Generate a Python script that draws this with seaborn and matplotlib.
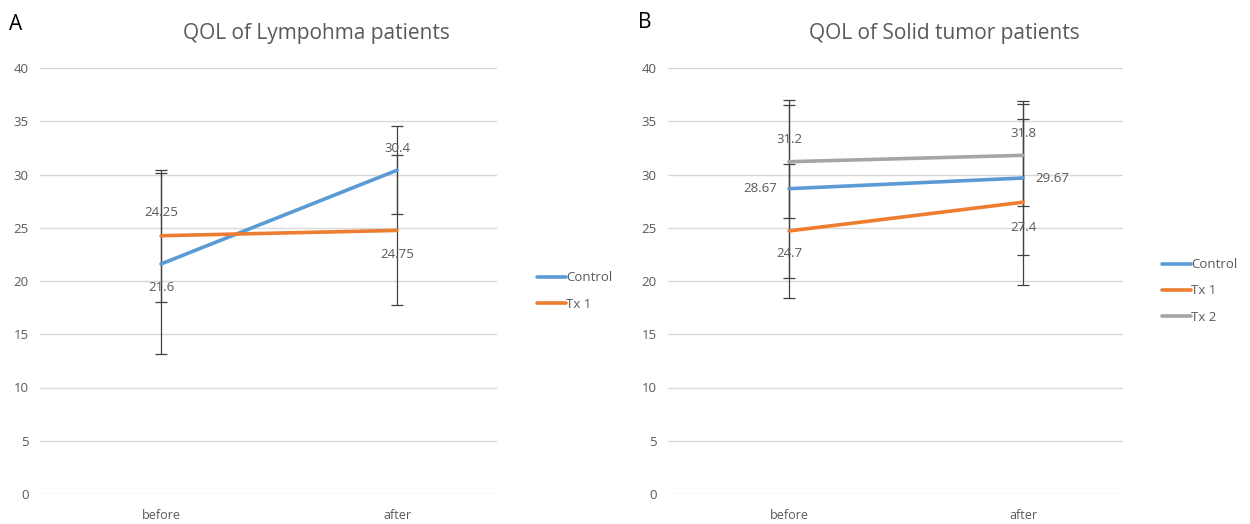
import matplotlib
matplotlib.use("Agg")
import matplotlib.pyplot as plt
from matplotlib.lines import Line2D
import seaborn as sns
import pandas as pd

# ---- data ----
timepoints = ["before", "after"]

lym_series = ["Control", "Tx 1"]
lym_control = [21.6, 30.4]
lym_tx1 = [24.25, 24.75]
lym_control_err = [8.5, 4.15]
lym_tx1_err = [6.2, 7.05]

sol_series = ["Control", "Tx 1", "Tx 2"]
sol_control = [28.67, 29.67]
sol_tx1 = [24.7, 27.4]
sol_tx2 = [31.2, 31.8]
sol_control_err = [8.35, 7.25]
sol_tx1_err = [6.3, 7.8]
sol_tx2_err = [5.3, 4.8]

yticks = [0, 5, 10, 15, 20, 25, 30, 35, 40]

sns.set_theme(style="white")
plt.rcParams['font.family'] = ['Open Sans', 'DejaVu Sans']

colors = {"Control": "#5B9BD5", "Tx 1": "#ED7D31", "Tx 2": "#A5A5A5"}
TXT = "#595959"

W, H = 1250, 524
fig = plt.figure(figsize=(W / 100, H / 100), dpi=100)


def fx(px):
    return px / W


def fy(py):
    return 1 - py / H


def make_df(series, values):
    rows = []
    for s, vals in zip(series, values):
        for i, v in enumerate(vals):
            rows.append({"series": s, "x": i, "value": v})
    return pd.DataFrame(rows)


def draw_panel(ax, series, values, errs, xlim, labels_spec):
    df = make_df(series, values)
    ax.set_ylim(0, 40)
    ax.set_xlim(*xlim)
    for y in yticks:
        ax.axhline(y, color="#D9D9D9", lw=1.0, zorder=0)
    for s, vals, e in zip(series, values, errs):
        ax.errorbar([0, 1], vals, yerr=e, fmt="none", ecolor="#404040",
                    elinewidth=0.9, capsize=4, capthick=0.9, zorder=2)
    sns.lineplot(data=df, x="x", y="value", hue="series", palette=colors,
                 hue_order=series, linewidth=2.6, ax=ax, legend=False,
                 zorder=3)
    for (s, i, dx, dy) in labels_spec:
        v = values[series.index(s)][i]
        ax.annotate(f"{v:g}", (i, v), xytext=(dx, dy), textcoords="offset pixels",
                    ha="center", va="center", fontsize=9.5, color=TXT, zorder=4)
    for sp in ax.spines.values():
        sp.set_visible(False)
    ax.set_yticks(yticks)
    ax.set_yticklabels([str(t) for t in yticks], fontsize=9.5, color=TXT)
    ax.set_xticks([0, 1])
    ax.set_xticklabels(timepoints, fontsize=9, color=TXT)
    ax.tick_params(axis="both", length=0)
    ax.tick_params(axis="x", pad=11)
    ax.tick_params(axis="y", pad=8)
    ax.set_xlabel("")
    ax.set_ylabel("")
    ax.grid(False)


# left panel
axL = fig.add_axes([fx(40), fy(494), fx(497 - 40), fy(68) - fy(494)])
draw_panel(axL, lym_series, [lym_control, lym_tx1],
           [lym_control_err, lym_tx1_err], (-0.513, 1.424),
           [("Tx 1", 0, 0, 23), ("Control", 0, 0, -24),
            ("Control", 1, 0, 22), ("Tx 1", 1, 0, -24)])

# right panel
axR = fig.add_axes([fx(668), fy(494), fx(1123 - 668), fy(68) - fy(494)])
draw_panel(axR, sol_series, [sol_control, sol_tx1, sol_tx2],
           [sol_control_err, sol_tx1_err, sol_tx2_err], (-0.517, 1.427),
           [("Tx 2", 0, 0, 22), ("Control", 0, -29, 0), ("Tx 1", 0, 0, -23),
            ("Tx 2", 1, 0, 22), ("Control", 1, 29, 0), ("Tx 1", 1, 0, -25)])

# titles and panel letters
fig.text(fx(316), fy(33), "QOL of Lympohma patients", ha="center", va="center",
         fontsize=15, color=TXT)
fig.text(fx(944), fy(33), "QOL of Solid tumor patients", ha="center", va="center",
         fontsize=15, color=TXT)
fig.text(fx(9), fy(25), "A", ha="left", va="center", fontsize=15, color="black")
fig.text(fx(638), fy(22), "B", ha="left", va="center", fontsize=15, color="black")


def add_legend(series, px, py):
    handles = [Line2D([0], [0], color=colors[s], lw=2.6) for s in series]
    fig.legend(handles, series, loc="center left",
               bbox_to_anchor=(fx(px), fy(py)), frameon=False, fontsize=9.5,
               handlelength=2.2, handletextpad=0.0, labelspacing=1.0,
               labelcolor=TXT, borderaxespad=0, borderpad=0)


add_legend(lym_series, 537, 291)
add_legend(sol_series, 1162, 291)

fig.savefig("out.png", dpi=100, facecolor="white")
